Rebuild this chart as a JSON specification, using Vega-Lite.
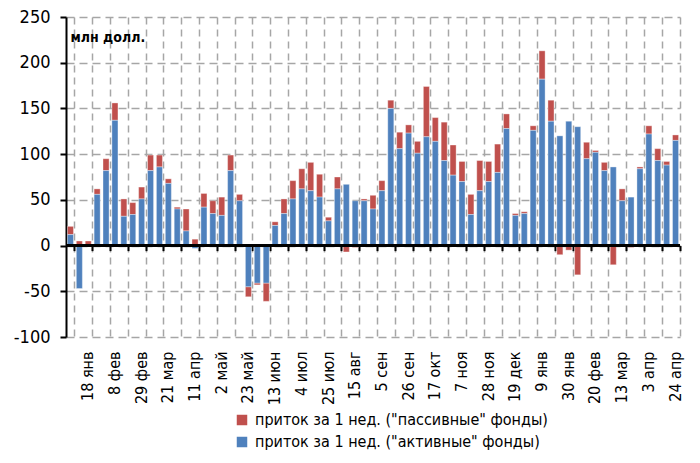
{
  "$schema": "https://vega.github.io/schema/vega-lite/v6.json",
  "autosize": "none",
  "width": 614,
  "height": 320,
  "padding": {"left": 66, "top": 17, "right": 20, "bottom": 126},
  "background": "white",
  "config": {
    "view": {"stroke": null},
    "font": "Liberation Sans Narrow, DejaVu Sans Condensed, sans-serif"
  },
  "data": {
    "values": [
      {"w": "2016-01-04", "a": 12, "p": 9},
      {"w": "2016-01-11", "a": -47, "p": 5},
      {"w": "2016-01-18", "a": 0, "p": 5},
      {"w": "2016-01-25", "a": 56, "p": 6},
      {"w": "2016-02-01", "a": 82, "p": 13},
      {"w": "2016-02-08", "a": 137, "p": 19},
      {"w": "2016-02-15", "a": 32, "p": 19},
      {"w": "2016-02-22", "a": 34, "p": 13},
      {"w": "2016-02-29", "a": 51, "p": 13},
      {"w": "2016-03-07", "a": 82, "p": 17},
      {"w": "2016-03-14", "a": 86, "p": 13},
      {"w": "2016-03-21", "a": 68, "p": 5},
      {"w": "2016-03-28", "a": 40, "p": 2},
      {"w": "2016-04-04", "a": 16, "p": 24},
      {"w": "2016-04-11", "a": -3, "p": 7},
      {"w": "2016-04-18", "a": 42, "p": 15},
      {"w": "2016-04-25", "a": 35, "p": 14},
      {"w": "2016-05-02", "a": 33, "p": 20},
      {"w": "2016-05-09", "a": 82, "p": 17},
      {"w": "2016-05-16", "a": 49, "p": 7},
      {"w": "2016-05-23", "a": -45, "p": -11},
      {"w": "2016-05-30", "a": -41, "p": -2},
      {"w": "2016-06-06", "a": -41, "p": -20},
      {"w": "2016-06-13", "a": 22, "p": 4},
      {"w": "2016-06-20", "a": 35, "p": 16},
      {"w": "2016-06-27", "a": 51, "p": 20},
      {"w": "2016-07-04", "a": 62, "p": 22},
      {"w": "2016-07-11", "a": 60, "p": 31},
      {"w": "2016-07-18", "a": 53, "p": 25},
      {"w": "2016-07-25", "a": 27, "p": 4},
      {"w": "2016-08-01", "a": 62, "p": 13},
      {"w": "2016-08-08", "a": 67, "p": -7},
      {"w": "2016-08-15", "a": 49, "p": -2},
      {"w": "2016-08-22", "a": 49, "p": 2},
      {"w": "2016-08-29", "a": 40, "p": 15},
      {"w": "2016-09-05", "a": 60, "p": 11},
      {"w": "2016-09-12", "a": 150, "p": 9},
      {"w": "2016-09-19", "a": 106, "p": 18},
      {"w": "2016-09-26", "a": 123, "p": 9},
      {"w": "2016-10-03", "a": 101, "p": 13},
      {"w": "2016-10-10", "a": 119, "p": 55},
      {"w": "2016-10-17", "a": 114, "p": 26},
      {"w": "2016-10-24", "a": 93, "p": 42},
      {"w": "2016-10-31", "a": 77, "p": 33},
      {"w": "2016-11-07", "a": 70, "p": 22},
      {"w": "2016-11-14", "a": 34, "p": 22},
      {"w": "2016-11-21", "a": 60, "p": 33},
      {"w": "2016-11-28", "a": 70, "p": 22},
      {"w": "2016-12-05", "a": 80, "p": 31},
      {"w": "2016-12-12", "a": 128, "p": 16},
      {"w": "2016-12-19", "a": 33, "p": 2},
      {"w": "2016-12-26", "a": 35, "p": 2},
      {"w": "2017-01-02", "a": 126, "p": 5},
      {"w": "2017-01-09", "a": 182, "p": 31},
      {"w": "2017-01-16", "a": 136, "p": 23},
      {"w": "2017-01-23", "a": 120, "p": -10},
      {"w": "2017-01-30", "a": 136, "p": -5},
      {"w": "2017-02-06", "a": 130, "p": -32},
      {"w": "2017-02-13", "a": 95, "p": 18},
      {"w": "2017-02-20", "a": 102, "p": 2},
      {"w": "2017-02-27", "a": 82, "p": 9},
      {"w": "2017-03-06", "a": 86, "p": -21},
      {"w": "2017-03-13", "a": 49, "p": 13},
      {"w": "2017-03-20", "a": 53, "p": -2},
      {"w": "2017-03-27", "a": 84, "p": 2},
      {"w": "2017-04-03", "a": 122, "p": 9},
      {"w": "2017-04-10", "a": 93, "p": 13},
      {"w": "2017-04-17", "a": 88, "p": 4},
      {"w": "2017-04-24", "a": 115, "p": 6}
    ]
  },
  "transform": [{"fold": ["p", "a"], "as": ["s", "v"]}],
  "resolve": {"axis": {"x": "independent"}},
  "layer": [
    {
      "mark": {"type": "bar", "width": {"band": 0.68}, "stroke": "#ffffff", "strokeOpacity": 0.35, "strokeWidth": 1},
      "encoding": {
        "x": {
          "field": "w", "type": "ordinal", "sort": null,
          "scale": {"paddingInner": 0, "paddingOuter": 0},
          "axis": {
            "orient": "bottom", "title": null, "labels": false,
            "values": ["2016-01-04","2016-01-18","2016-02-01","2016-02-15","2016-02-29","2016-03-14","2016-03-28","2016-04-11","2016-04-25","2016-05-09","2016-05-23","2016-06-06","2016-06-20","2016-07-04","2016-07-18","2016-08-01","2016-08-15","2016-08-29","2016-09-12","2016-09-26","2016-10-10","2016-10-24","2016-11-07","2016-11-21","2016-12-05","2016-12-19","2017-01-02","2017-01-16","2017-01-30","2017-02-13","2017-02-27","2017-03-13","2017-03-27","2017-04-10","2017-04-24"],
            "bandPosition": 1, "offset": -91.43, "domain": false,
            "ticks": true, "tickColor": "#000000", "tickWidth": 2, "tickSize": 5,
            "grid": true, "gridColor": "#A6A6A6", "gridWidth": 1.5, "gridDash": [7, 5],
            "zindex": 0
          }
        },
        "y": {
          "field": "v", "type": "quantitative", "stack": "zero",
          "scale": {"domain": [-100, 250], "nice": false, "zero": false},
          "axis": {
            "title": "млн долл.", "titleAngle": 0, "titleAlign": "left", "titleBaseline": "middle",
            "titleX": 4, "titleY": 20, "titleFontSize": 14, "titleFontWeight": "bold", "titleColor": "#000000",
            "values": [-100, -50, 0, 50, 100, 150, 200, 250],
            "labelExpr": "toString(datum.value)",
            "domain": true, "domainColor": "#000000", "domainWidth": 2,
            "ticks": true, "tickColor": "#000000", "tickWidth": 2, "tickSize": 6,
            "labelFontSize": 18, "labelColor": "#000000", "labelPadding": 10,
            "grid": true, "gridColor": "#A6A6A6", "gridWidth": 1.5, "gridDash": [8, 5]
          }
        },
        "color": {
          "field": "s", "type": "nominal",
          "scale": {"domain": ["p", "a"], "range": ["#C0504D", "#4F81BD"]},
          "legend": {
            "orient": "none", "legendX": 168, "legendY": 395, "direction": "vertical",
            "title": null, "symbolType": "square", "symbolSize": 110, "symbolStrokeWidth": 0,
            "labelFontSize": 16, "labelColor": "#000000", "labelLimit": 400, "rowPadding": 6, "labelOffset": 5,
            "labelExpr": "datum.label == 'p' ? 'приток за 1 нед. (\"пассивные\"  фонды)' : 'приток за 1 нед. (\"активные\"  фонды)'"
          }
        },
        "order": {"field": "s", "sort": "ascending"}
      }
    },
    {
      "mark": {"type": "rule", "color": "#000000", "strokeWidth": 2},
      "encoding": {"y": {"datum": 0}}
    },
    {
      "mark": {"type": "point", "opacity": 0},
      "encoding": {
        "x": {
          "field": "w", "type": "ordinal", "sort": null,
          "axis": {
            "orient": "bottom", "title": null,
            "values": ["2016-01-18","2016-02-08","2016-02-29","2016-03-21","2016-04-11","2016-05-02","2016-05-23","2016-06-13","2016-07-04","2016-07-25","2016-08-15","2016-09-05","2016-09-26","2016-10-17","2016-11-07","2016-11-28","2016-12-19","2017-01-09","2017-01-30","2017-02-20","2017-03-13","2017-04-03","2017-04-24"],
            "labelExpr": "utcdate(toDate(datum.value)) + ' ' + ['янв','фев','мар','апр','май','июн','июл','авг','сен','окт','ноя','дек'][utcmonth(toDate(datum.value))]",
            "labelAngle": 270, "labelFontSize": 16, "labelColor": "#000000", "labelPadding": 14,
            "domain": false, "ticks": false, "tickSize": 0, "grid": false
          }
        }
      }
    }
  ]
}
